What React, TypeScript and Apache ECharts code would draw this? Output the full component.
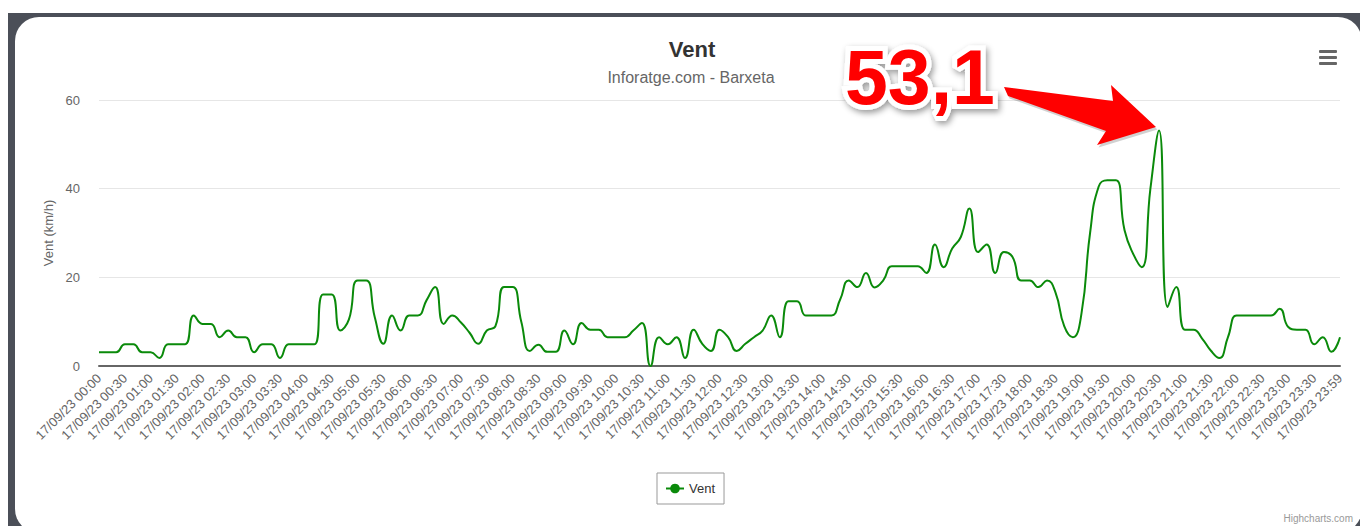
import React, { useEffect, useRef } from "react";
import * as echarts from "echarts";

const FONT = "'Liberation Sans', Arial, Helvetica, sans-serif";

// Category labels: every 10 minutes of 17/09/23, plus the final 23:59 reading
const pad = (n: number) => (n < 10 ? "0" + n : "" + n);
const categories: string[] = [];
for (let m = 0; m < 1440; m += 10) {
  categories.push(`17/09/23 ${pad(Math.floor(m / 60))}:${pad(m % 60)}`);
}
categories.push("17/09/23 23:59");

// Wind (km/h)
const ventValues: number[] = [
  3.1, 3.1, 3.1, 4.9, 4.9, 3.1, 3.1, 1.8, 4.9, 4.9,
  4.9, 11.4, 9.5, 9.5, 6.5, 8.0, 6.5, 6.5, 3.1, 4.9,
  4.9, 1.8, 4.9, 4.9, 4.9, 4.9, 16.1, 16.1, 8.0, 10.5,
  19.3, 19.3, 11.0, 5.0, 11.4, 8.0, 11.4, 11.4, 14.8, 17.8,
  9.5, 11.4, 9.8, 7.5, 5.0, 8.0, 9.0, 17.8, 17.8, 10.0,
  3.4, 4.8, 3.2, 3.2, 8.0, 4.9, 9.7, 8.2, 8.2, 6.5,
  6.5, 6.5, 8.0, 9.7, 0, 6.5, 4.9, 6.5, 1.8, 8.2,
  5.0, 3.4, 8.2, 6.5, 3.4, 5.0, 6.5, 8.0, 11.4, 6.5,
  14.6, 14.6, 11.4, 11.4, 11.4, 11.4, 15.0, 19.3, 17.8, 21.0,
  17.7, 19.3, 22.5, 22.5, 22.5, 22.5, 21.0, 27.4, 22.3, 26.5,
  29.1, 35.5, 25.7, 27.4, 21.0, 25.7, 24.6, 19.3, 19.3, 17.8,
  19.3, 16.5, 9.0, 6.5, 11.8, 30.0, 40.5, 41.9, 41.9, 30.6,
  25.3, 22.3, 40.0, 53.1, 13.3, 17.8, 8.2, 8.2, 6.2, 3.5,
  1.8, 6.5, 11.4, 11.4, 11.4, 11.4, 11.4, 12.9, 8.8, 8.2,
  8.2, 4.9, 6.5, 3.2, 6.5,
];

const yTicks = { min: 0, max: 60, interval: 20 };
const titleText = "Vent";
const subtitleText = "Inforatge.com - Barxeta";
const yAxisName = "Vent (km/h)";
const seriesName = "Vent";
const peakLabel = "53,1";

const arrowPoints: number[][] = [
  [1004, 87],
  [1113, 101],
  [1111, 85],
  [1156, 127],
  [1097, 145],
  [1106, 131],
  [1008, 96],
];

export default function App() {
  const ref = useRef<HTMLDivElement>(null);

  useEffect(() => {
    if (!ref.current) return;
    const chart = echarts.init(ref.current, null, { renderer: "svg" });

    chart.setOption({
      animation: false,
      textStyle: { fontFamily: FONT },
      grid: { left: 99, right: 20, top: 100, bottom: 160, containLabel: false },
      xAxis: {
        type: "category",
        data: categories,
        boundaryGap: false,
        axisTick: { show: false },
        axisLine: { lineStyle: { color: "#666", width: 2 } },
        axisLabel: {
          interval: 2,
          rotate: 45,
          margin: 10,
          color: "#666",
          fontSize: 13,
          fontFamily: FONT,
        },
        splitLine: { show: false },
      },
      yAxis: {
        type: "value",
        min: yTicks.min,
        max: yTicks.max,
        interval: yTicks.interval,
        name: yAxisName,
        nameLocation: "middle",
        nameGap: 44,
        nameTextStyle: { color: "#666", fontSize: 13, fontFamily: FONT },
        axisLine: { show: false },
        axisTick: { show: false },
        axisLabel: { color: "#666", fontSize: 13, margin: 19, fontFamily: FONT },
        splitLine: { lineStyle: { color: "#e6e6e6", width: 1 } },
      },
      legend: {
        data: [seriesName],
        left: 657,
        top: 473,
        padding: [9, 9, 9, 8],
        borderColor: "#999",
        borderWidth: 1,
        itemWidth: 18,
        itemHeight: 12,
        itemGap: 6,
        textStyle: { color: "#333", fontSize: 13, fontFamily: FONT },
      },
      series: [
        {
          name: seriesName,
          type: "line",
          data: ventValues,
          smooth: 0.5,
          showSymbol: false,
          symbol: "circle",
          symbolSize: 8,
          lineStyle: { color: "#0a8a0a", width: 2 },
          itemStyle: { color: "#0a8a0a" },
        },
      ],
      graphic: [
        {
          type: "text",
          style: {
            text: titleText,
            x: 692,
            y: 49,
            textAlign: "center",
            textVerticalAlign: "middle",
            fill: "#333",
            font: `bold 22px ${FONT}`,
          },
        },
        {
          type: "text",
          style: {
            text: subtitleText,
            x: 691,
            y: 77,
            textAlign: "center",
            textVerticalAlign: "middle",
            fill: "#666",
            font: `16px ${FONT}`,
          },
        },
        { type: "rect", shape: { x: 1319, y: 50, width: 18, height: 3, r: 1 }, style: { fill: "#666" } },
        { type: "rect", shape: { x: 1319, y: 56, width: 18, height: 3, r: 1 }, style: { fill: "#666" } },
        { type: "rect", shape: { x: 1319, y: 62, width: 18, height: 3, r: 1 }, style: { fill: "#666" } },
        {
          type: "text",
          style: {
            text: "Highcharts.com",
            x: 1353,
            y: 518,
            textAlign: "right",
            textVerticalAlign: "middle",
            fill: "#999",
            font: `10px ${FONT}`,
          },
        },
        // arrow shadow + arrow
        {
          type: "polygon",
          z: 9,
          shape: { points: arrowPoints.map((p) => [p[0] + 1.5, p[1] + 2.5]) },
          style: { fill: "rgba(0,0,0,0.18)" },
        },
        {
          type: "polygon",
          z: 10,
          shape: { points: arrowPoints },
          style: { fill: "#ff0000" },
        },
        {
          type: "text",
          z: 10,
          style: {
            text: peakLabel,
            x: 845,
            y: 77,
            textAlign: "left",
            textVerticalAlign: "middle",
            font: `bold 77px ${FONT}`,
            fill: "#ff0000",
            stroke: "#ffffff",
            lineWidth: 10,
            textShadowColor: "rgba(0,0,0,0.4)",
            textShadowBlur: 6,
            textShadowOffsetX: 2,
            textShadowOffsetY: 3,
          },
        },
      ],
    });
    return () => chart.dispose();
  }, []);

  return (
    <div style={{ position: "fixed", left: 0, top: 0, width: 1360, height: 526, background: "#fff", overflow: "hidden" }}>
      <div style={{ position: "absolute", left: 8, top: 13, width: 1400, height: 600, background: "#4b4f58" }} />
      <div
        style={{
          position: "absolute",
          left: 15,
          top: 17,
          width: 1347,
          height: 516,
          borderRadius: 24,
          background: "#fff",
        }}
      />
      <div ref={ref} style={{ position: "absolute", left: 0, top: 0, width: 1360, height: 526 }} />
    </div>
  );
}
